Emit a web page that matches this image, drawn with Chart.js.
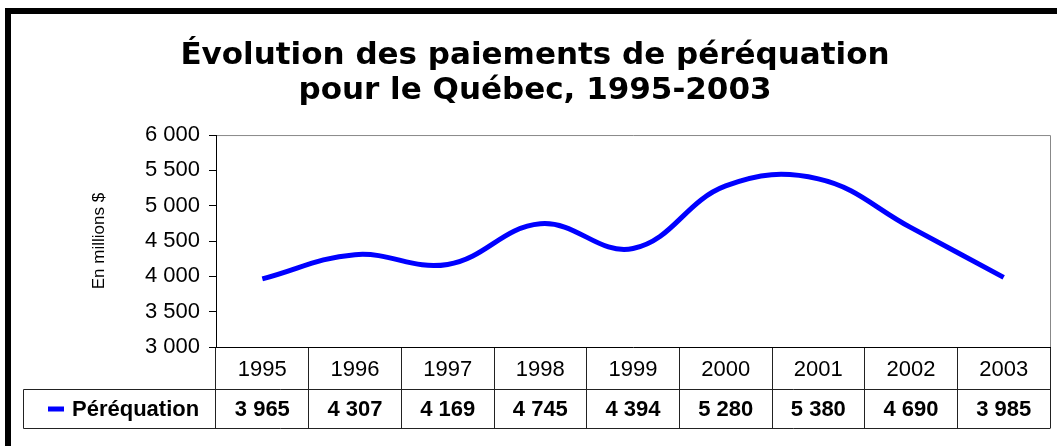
<!DOCTYPE html>
<html>
<head>
<meta charset="utf-8">
<script src="https://cdn.jsdelivr.net/npm/chart.js@4"></script>
<style>
  body { margin: 0; background: #fff; }
  #frame {
    position: absolute; left: 5px; top: 8px; width: 1100px; height: 500px;
    border-left: 6px solid #000; border-top: 6px solid #000;
  }
  #chart { position: absolute; left: 0; top: 0; }
</style>
</head>
<body>
<div id="frame"></div>
<canvas id="chart" width="1057" height="446"></canvas>
<script>
// data
const years = ["1995", "1996", "1997", "1998", "1999", "2000", "2001", "2002", "2003"];
const perequation = [3965, 4307, 4169, 4745, 4394, 5280, 5380, 4690, 3985];
const seriesName = "Péréquation";
const yMin = 3000;
const yMax = 6000;
const yStep = 500;
const chartTitle = ["Évolution des paiements de péréquation", "pour le Québec, 1995-2003"];
const yTitle = "En millions $";

const lineColor = "#0000ff";
const tableLine = "#222";

function frNumber(v) {
  return String(v).replace(/\B(?=(\d{3})+(?!\d))/g, " ");
}

// draws the gray plot frame and the data table under the x axis
const tablePlugin = {
  id: "dataTable",
  beforeDraw(chart) {
    const { ctx, chartArea } = chart;
    ctx.save();
    ctx.strokeStyle = "#888";
    ctx.lineWidth = 1;
    ctx.beginPath();
    ctx.moveTo(chartArea.left, chartArea.top + 0.5);
    ctx.lineTo(chartArea.right + 0.5, chartArea.top + 0.5);
    ctx.lineTo(chartArea.right + 0.5, chartArea.bottom);
    ctx.stroke();
    ctx.restore();
  },
  afterDraw(chart) {
    const { ctx, chartArea } = chart;
    const x = chart.scales.x;
    const tableLeft = 23;
    const row1 = x.top + 42;
    const row2 = x.bottom;
    ctx.save();
    ctx.strokeStyle = tableLine;
    ctx.lineWidth = 1;
    ctx.beginPath();
    ctx.moveTo(tableLeft + 0.5, row1 + 0.5);
    ctx.lineTo(chartArea.right + 0.5, row1 + 0.5);
    ctx.moveTo(tableLeft + 0.5, row2 + 0.5);
    ctx.lineTo(chartArea.right + 0.5, row2 + 0.5);
    ctx.moveTo(tableLeft + 0.5, row1 + 0.5);
    ctx.lineTo(tableLeft + 0.5, row2 + 0.5);
    ctx.stroke();

    const midY = (row1 + row2) / 2 + 1;
    ctx.fillStyle = "#000";
    ctx.font = "bold 22px 'Liberation Sans', Arial, sans-serif";
    ctx.textAlign = "center";
    ctx.textBaseline = "middle";
    perequation.forEach((v, i) => {
      ctx.fillText(frNumber(v), x.getPixelForValue(i), midY);
    });

    // legend key
    ctx.fillStyle = lineColor;
    ctx.fillRect(48, midY - 3, 16, 5);
    ctx.fillStyle = "#000";
    ctx.textAlign = "left";
    ctx.fillText(seriesName, 72, midY);
    ctx.restore();
  },
};

new Chart(document.getElementById("chart"), {
  type: "line",
  data: {
    labels: years,
    datasets: [
      {
        label: seriesName,
        data: perequation,
        borderColor: lineColor,
        backgroundColor: lineColor,
        borderWidth: 5,
        pointRadius: 0,
        tension: 0.4,
        fill: false,
      },
    ],
  },
  options: {
    responsive: false,
    animation: false,
    layout: { padding: { left: 20, right: 7, top: 14, bottom: 18 } },
    plugins: {
      legend: { display: false },
      tooltip: { enabled: false },
      title: {
        display: true,
        text: chartTitle,
        color: "#000",
        font: { family: "'DejaVu Sans', sans-serif", size: 31, weight: "bold", lineHeight: 1.13 },
        padding: { top: 24, bottom: 27 },
      },
    },
    scales: {
      x: {
        type: "category",
        offset: true,
        grid: {
          offset: true,
          drawOnChartArea: false,
          drawTicks: true,
          tickLength: 81,
          color: tableLine,
        },
        border: { display: true, color: "#000", width: 1 },
        ticks: {
          color: "#000",
          font: { family: "'Liberation Sans', Arial, sans-serif", size: 22 },
          padding: -71,
          maxRotation: 0,
          autoSkip: false,
        },
        afterFit(scale) {
          scale.height = 81;
        },
      },
      y: {
        min: yMin,
        max: yMax,
        grid: {
          drawOnChartArea: false,
          drawTicks: true,
          tickLength: 7,
          color: "#000",
        },
        border: { display: true, color: "#000", width: 1 },
        ticks: {
          stepSize: yStep,
          color: "#000",
          padding: 9,
          font: { family: "'Liberation Sans', Arial, sans-serif", size: 22 },
          callback: (v) => frNumber(v),
        },
        title: {
          display: true,
          text: yTitle,
          color: "#000",
          font: { family: "'Liberation Sans', sans-serif", size: 17 },
          padding: { top: 69, bottom: 0 },
        },
        afterFit(scale) {
          scale.width = 196;
        },
      },
    },
  },
  plugins: [tablePlugin],
});
</script>
</body>
</html>
